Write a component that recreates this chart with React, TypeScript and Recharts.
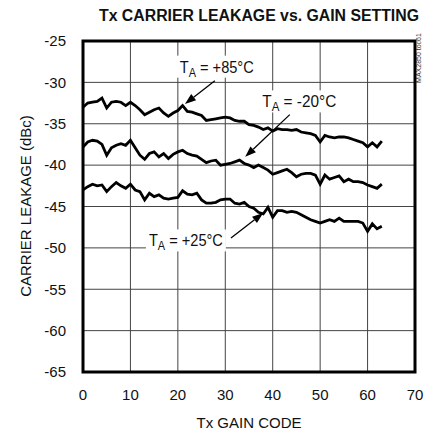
import React from 'react';
import {
  LineChart,
  Line,
  XAxis,
  YAxis,
  CartesianGrid,
  ReferenceLine,
  ReferenceDot,
  ReferenceArea,
} from 'recharts';

const gainCodes = [
  0, 1, 2, 3, 4, 5, 6, 7, 8, 9, 10, 11, 12, 13, 14, 15, 16, 17, 18, 19, 20, 21, 22, 23, 24, 25, 26, 27, 28, 29, 30, 31,
  32, 33, 34, 35, 36, 37, 38, 39, 40, 41, 42, 43, 44, 45, 46, 47, 48, 49, 50, 51, 52, 53, 54, 55, 56, 57, 58, 59, 60,
  61, 62, 63,
];

const leakage85 = [
  -33.0, -32.5, -32.4, -32.3, -31.9, -33.1, -32.4, -32.3, -32.4, -32.8, -32.4, -32.8, -33.3, -33.9, -33.6, -33.3,
  -33.1, -33.7, -34.1, -33.7, -33.4, -32.8, -33.5, -33.6, -33.8, -34.0, -34.6, -34.5, -34.4, -34.3, -34.2, -34.3,
  -34.6, -34.7, -34.7, -35.1, -35.2, -35.4, -35.7, -35.5, -35.9, -35.6, -35.7, -35.7, -35.8, -35.7, -36.0, -36.1,
  -36.2, -36.4, -37.2, -36.4, -36.6, -36.7, -36.6, -36.6, -36.7, -36.9, -37.1, -37.3, -37.8, -37.3, -37.8, -37.1,
];

const leakageMinus20 = [
  -37.8, -37.2, -37.0, -37.1, -37.5, -38.8, -37.9, -37.6, -37.4, -37.6, -37.0, -37.9, -38.8, -39.3, -38.6, -38.4,
  -39.0, -38.6, -39.2, -38.7, -38.4, -38.2, -38.6, -38.8, -38.9, -39.3, -39.7, -39.5, -39.4, -40.0, -39.9, -39.8,
  -39.6, -39.4, -39.8, -40.0, -40.3, -40.0, -40.3, -40.6, -41.1, -40.9, -40.7, -40.5, -40.9, -41.4, -41.1, -41.0,
  -41.0, -41.2, -42.3, -41.2, -41.7, -41.5, -41.3, -42.0, -41.7, -42.0, -42.0, -42.1, -42.4, -42.6, -42.8, -42.3,
];

const leakage25 = [
  -43.0, -42.6, -42.3, -42.5, -42.4, -43.2, -42.6, -42.1, -42.5, -42.8, -42.3, -43.0, -43.2, -44.2, -43.4, -43.8,
  -43.6, -44.0, -44.1, -44.0, -43.9, -43.1, -43.5, -43.6, -43.4, -44.2, -44.6, -44.6, -44.5, -44.2, -44.1, -44.1,
  -44.6, -44.7, -44.5, -45.0, -45.2, -45.7, -45.9, -45.1, -46.3, -45.5, -45.5, -45.7, -45.6, -45.7, -46.0, -46.3,
  -46.6, -46.8, -47.0, -46.8, -46.6, -46.8, -46.4, -46.8, -46.8, -46.8, -46.8, -47.0, -48.0, -47.1, -47.7, -47.4,
];

const xTicks = [0, 10, 20, 30, 40, 50, 60, 70];
const yTicks = [-65, -60, -55, -50, -45, -40, -35, -30, -25];

const annotationLabels = ['+85°C', '-20°C', '+25°C'];
const annotationTextX = [28.2, 45.6, 21.7];
const annotationTextY = [-28.1, -32.3, -49.1];
const arrowFromX = [27.8, 43.6, 31.2];
const arrowFromY = [-29.8, -33.9, -48.8];
const arrowTipX = [21.5, 34.2, 38.0];
const arrowTipY = [-32.6, -39.0, -45.8];

const data = gainCodes.map((code, i) => ({
  code,
  t85: leakage85[i],
  tm20: leakageMinus20[i],
  t25: leakage25[i],
}));

const FONT = "'Liberation Sans', Arial, sans-serif";
const W = 425;
const H = 436;

const ArrowShape = (props: any) => {
  const { x1, y1, x2, y2 } = props;
  if ([x1, y1, x2, y2].some((v) => typeof v !== 'number' || isNaN(v))) return <g />;
  const ang = Math.atan2(y2 - y1, x2 - x1);
  const len = 11;
  const half = 4;
  const bx = x2 - len * Math.cos(ang);
  const by = y2 - len * Math.sin(ang);
  const px = -Math.sin(ang) * half;
  const py = Math.cos(ang) * half;
  return (
    <g>
      <line x1={x1} y1={y1} x2={bx} y2={by} stroke="#000" strokeWidth={1.3} />
      <polygon points={`${x2},${y2} ${bx + px},${by + py} ${bx - px},${by - py}`} fill="#000" />
    </g>
  );
};

const makeLabelShape = (text: string) => (props: any) => {
  const { cx, cy } = props;
  if (typeof cx !== 'number' || typeof cy !== 'number') return <g />;
  return (
    <g>
      <rect x={cx - 40} y={cy - 11} width={80} height={22} fill="#fff" />
      <text
        x={cx}
        y={cy + 6}
        textAnchor="middle"
        fontFamily={FONT}
        fontSize={16}
        fill="#111"
        textLength={74}
        lengthAdjust="spacingAndGlyphs"
      >
        T
        <tspan fontSize={12} dy={4}>
          A
        </tspan>
        <tspan dy={-4}>{` = ${text}`}</tspan>
      </text>
    </g>
  );
};

export default function App() {
  return (
    <div style={{ position: 'absolute', left: 0, top: 0, width: W, height: H, background: '#fff' }}>
      <LineChart width={W} height={H} data={data} margin={{ top: 41, right: 10, bottom: 0, left: 0 }}>
        <CartesianGrid stroke="#444" strokeWidth={1} />
        <XAxis
          dataKey="code"
          type="number"
          domain={[0, 70]}
          ticks={xTicks}
          height={64}
          axisLine={false}
          tickLine={false}
          tickSize={0}
          tickMargin={17}
          tick={{ fontFamily: FONT, fontSize: 15, fill: '#111' }}
          interval={0}
        />
        <YAxis
          type="number"
          domain={[-65, -25]}
          ticks={yTicks}
          width={83}
          axisLine={false}
          tickLine={false}
          tickSize={0}
          tickMargin={17}
          tick={{ fontFamily: FONT, fontSize: 15, fill: '#111' }}
          interval={0}
        />
        <Line dataKey="t85" stroke="#000" strokeWidth={2.8} dot={false} isAnimationActive={false} type="linear" />
        <Line dataKey="tm20" stroke="#000" strokeWidth={2.8} dot={false} isAnimationActive={false} type="linear" />
        <Line dataKey="t25" stroke="#000" strokeWidth={2.8} dot={false} isAnimationActive={false} type="linear" />
        <ReferenceArea
          x1={0}
          x2={70}
          y1={-65}
          y2={-25}
          fill="none"
          stroke="#000"
          strokeWidth={3}
          fillOpacity={0}
          ifOverflow="visible"
        />
        {annotationLabels.map((lbl, i) => (
          <ReferenceLine
            key={`arrow-${i}`}
            segment={[
              { x: arrowFromX[i], y: arrowFromY[i] },
              { x: arrowTipX[i], y: arrowTipY[i] },
            ]}
            shape={ArrowShape}
            ifOverflow="visible"
          />
        ))}
        {annotationLabels.map((lbl, i) => (
          <ReferenceDot
            key={`label-${i}`}
            x={annotationTextX[i]}
            y={annotationTextY[i]}
            shape={makeLabelShape(lbl)}
            ifOverflow="visible"
          />
        ))}
        <text
          x={259}
          y={21}
          textAnchor="middle"
          fontFamily={FONT}
          fontWeight="bold"
          fontSize={16}
          fill="#111"
          textLength={320}
          lengthAdjust="spacingAndGlyphs"
        >
          Tx CARRIER LEAKAGE vs. GAIN SETTING
        </text>
        <text x={249} y={428} textAnchor="middle" fontFamily={FONT} fontSize={15} fill="#111">
          Tx GAIN CODE
        </text>
        <text
          x={31}
          y={206}
          textAnchor="middle"
          fontFamily={FONT}
          fontSize={15}
          fill="#111"
          transform="rotate(-90 31 206)"
        >
          CARRIER LEAKAGE (dBc)
        </text>
        <text
          x={421}
          y={58}
          textAnchor="middle"
          fontFamily={FONT}
          fontSize={7}
          fill="#333"
          transform="rotate(-90 421 58)"
        >
          MAX2850 toc61
        </text>
      </LineChart>
    </div>
  );
}
